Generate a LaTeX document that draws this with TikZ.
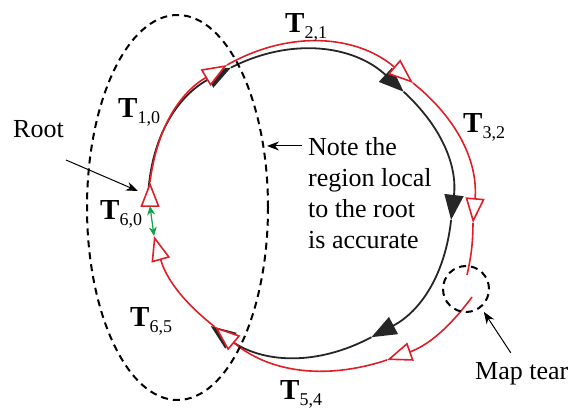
\documentclass[tikz,border=0pt]{standalone}
\usepackage{fontspec}
\setmainfont{Liberation Serif}
\usepackage{tikz}
\usetikzlibrary{arrows.meta,calc,positioning,shapes.geometric}
\definecolor{trajred}{RGB}{225,30,40}
\definecolor{closegreen}{RGB}{20,160,70}
\newcommand{\Tij}[1]{{\fontsize{29}{29}\selectfont\bfseries T}\raisebox{-6pt}{\fontsize{18}{18}\selectfont #1}}

\begin{document}
\begin{tikzpicture}[x=1pt,y=1pt,>=Latex,
  txt/.style={font=\fontsize{26}{31}\selectfont,inner sep=0pt},
  lbl/.style={inner sep=0pt,anchor=base west},
  blk/.style={line width=1.8pt,black!85,-{Triangle[length=25pt,width=19pt]}},
  odo/.style={line width=1.6pt,trajred,-{Triangle[length=25pt,width=19pt,fill=white]}},
  odoline/.style={line width=1.6pt,trajred},
  region/.style={draw,ellipse,line width=2pt,dash pattern=on 7pt off 5pt,inner sep=0pt},
  ptr/.style={-{Stealth[length=12pt,width=9pt]},line width=1pt},
  gap/.style={{Stealth[length=9pt,width=8pt]}-{Stealth[length=9pt,width=8pt]},line width=1.2pt,closegreen}]
\useasboundingbox (0,0) rectangle (571,410);
% true loop
\coordinate (b0) at (148,207);
\coordinate (b1) at (231,342.4);
\coordinate (b2) at (403.7,318.2);
\coordinate (b3) at (451.1,190.1);
\coordinate (b4) at (371.4,72.8);
\coordinate (b5) at (210.7,84);
\draw[blk] (b0) to[bend left=31] (b1);
\draw[blk] (b1) to[bend left=35] (b2);
\draw[blk] (b2) to[bend left=27] (b3);
\draw[blk] (b3) to[bend left=28] (b4);
\draw[blk] (b4) to[bend left=32] (b5);
% estimated loop, torn at the right
\coordinate (r0b) at (150,204);
\coordinate (r0) at (150,228);
\coordinate (r1) at (227,345);
\coordinate (r2) at (413,327);
\coordinate (r3) at (473,187);
\coordinate (t1) at (467,135);
\coordinate (t2) at (472,113);
\coordinate (r5) at (387,50);
\coordinate (r6) at (215,83);
\coordinate (r7) at (154,174);
\draw[odo] (r0b) -- (r0);
\draw[odo] (r0) to[bend left=26] (r1);
\draw[odo] (r1) to[bend left=35] (r2);
\draw[odo] (r2) to[bend left=28] (r3);
\draw[odoline] (r3) to[bend left=6] (t1);
\draw[odo] (t2) to[bend left=17] (r5);
\draw[odo] (r5) to[bend left=29] (r6);
\draw[odo] (r6) to[bend left=18] (r7);
\draw[gap] (r0b) -- (r7);
% regions
\node[region,minimum width=181pt,minimum height=385pt] (local) at (177.5,202.5) {};
\node[region,circle,minimum size=46pt] (tear) at (466,121) {};
% labels
\node[lbl] (T10) at (118,292) {\Tij{1,0}};
\node[lbl] (T21) at (285,377) {\Tij{2,1}};
\node[lbl] (T32) at (463,277) {\Tij{3,2}};
\node[lbl] (T60) at (100,190) {\Tij{6,0}};
\node[lbl] (T65) at (130,83) {\Tij{6,5}};
\node[lbl] (T54) at (280,10) {\Tij{5,4}};
\node[txt,anchor=base west] (root) at (13,272) {Root};
\node[txt,anchor=north west,align=left] (note) at (308,273) {Note the\\region local\\to the root\\is accurate};
\node[txt,anchor=base west] (tearlbl) at (475,30) {Map tear};
\coordinate (notetip) at (267,264);
\coordinate (roottip) at (138,219);
\draw[ptr] ([xshift=-6pt,yshift=-9pt]note.north west) -- (notetip);
\draw[ptr] ([xshift=2pt,yshift=-22pt]root.base east) -- (roottip);
\draw[ptr,shorten >=5pt] ([xshift=-11pt,yshift=10pt]tearlbl.north) -- (tear.-51);
\end{tikzpicture}
\end{document}
